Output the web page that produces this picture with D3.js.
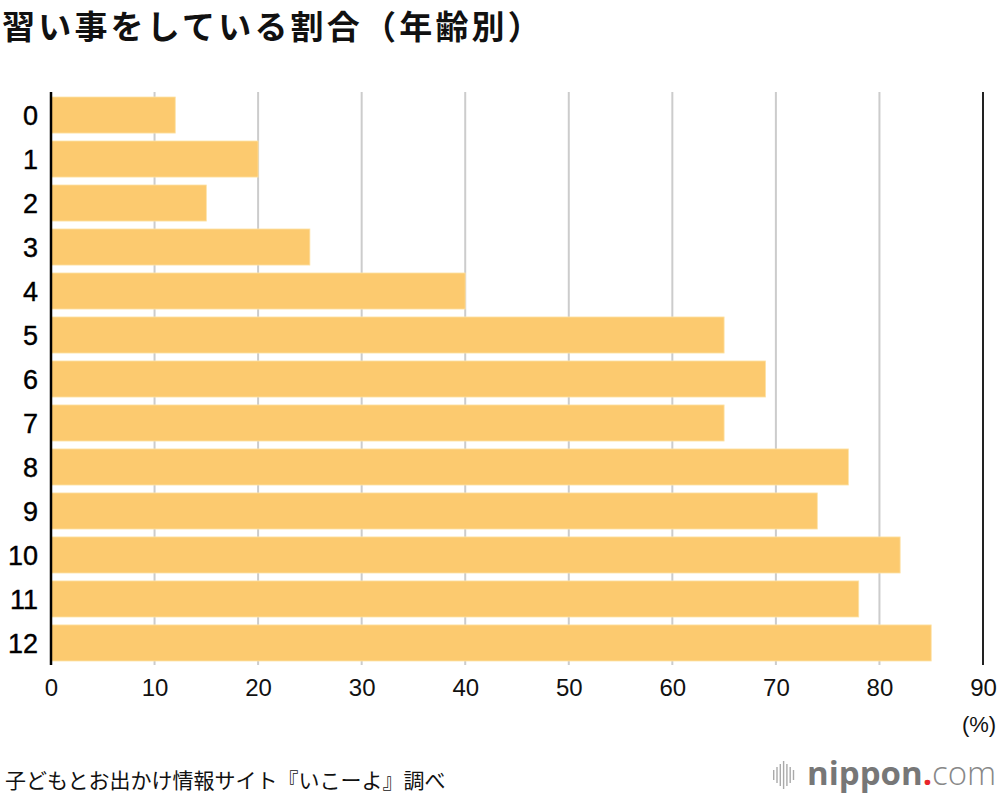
<!DOCTYPE html>
<html><head><meta charset="utf-8">
<script src="https://cdn.jsdelivr.net/npm/d3@7"></script>
<style>
body{margin:0;background:#fff;}
svg{display:block;}
</style></head>
<body>
<svg id="chart" width="1000" height="796"></svg>
<script>
const categories = ["0","1","2","3","4","5","6","7","8","9","10","11","12"];
const values = [12,20,15,25,40,65,69,65,77,74,82,78,85];
const xTicks = [0,10,20,30,40,50,60,70,80,90];
const title = "習い事をしている割合（年齢別）";
const source = "子どもとお出かけ情報サイト『いこーよ』調べ";
const unitLabel = "(%)";

const svg = d3.select("#chart");
const latin = "'Liberation Sans', Arial, sans-serif";
const cjk = "'Noto Sans CJK JP', sans-serif";

const x = d3.scaleLinear().domain([0,90]).range([51,983]);
const y = d3.scaleBand().domain(categories).range([97,661]).paddingInner(0.18).paddingOuter(0);

// gridlines
svg.append("g").selectAll("line").data(xTicks.filter(t=>t>0 && t<90)).join("line")
  .attr("x1",d=>x(d)).attr("x2",d=>x(d)).attr("y1",92).attr("y2",665)
  .attr("stroke","#cccccc").attr("stroke-width",2);

// bars
svg.append("g").selectAll("rect").data(values).join("rect")
  .attr("x",x(0)).attr("y",(d,i)=>y(categories[i]))
  .attr("width",d=>x(d)-x(0)).attr("height",y.bandwidth())
  .attr("fill","#fcca6f").attr("stroke","#fde3a8").attr("stroke-width",0.8);

// axis lines
svg.append("line").attr("x1",x(0)).attr("x2",x(0)).attr("y1",92).attr("y2",665)
  .attr("stroke","#000").attr("stroke-width",2.5);
svg.append("line").attr("x1",x(90)).attr("x2",x(90)).attr("y1",92).attr("y2",665)
  .attr("stroke","#222").attr("stroke-width",2);

// x axis tick labels
const xAxis = d3.axisBottom(x).tickValues(xTicks).tickSize(0).tickPadding(0);
const gx = svg.append("g").attr("transform","translate(0,679)").call(xAxis);
gx.select(".domain").remove();
gx.selectAll("text").attr("font-family",latin).attr("font-size",24).attr("fill","#111")
  .attr("dy","0.71em");

// y axis labels
const yAxis = d3.axisLeft(y).tickSize(0).tickPadding(0);
const gy = svg.append("g").attr("transform","translate(38,0)").call(yAxis);
gy.select(".domain").remove();
gy.selectAll("text").attr("font-family",latin).attr("font-size",27).attr("fill","#000")
  .attr("stroke","#000").attr("stroke-width",0.4).attr("dy","0.36em");

// unit
svg.append("text").attr("x",979).attr("y",732).attr("text-anchor","middle")
  .attr("font-family",latin).attr("font-size",22).attr("fill","#111").text(unitLabel);

// title
svg.append("text").attr("x",2).attr("y",39).attr("font-family",cjk).attr("font-weight","bold")
  .attr("font-size",33).attr("letter-spacing",3.2).attr("fill","#111").text(title);

// source
svg.append("text").attr("x",5).attr("y",788).attr("font-family",cjk)
  .attr("font-size",21).attr("fill","#111").text(source);

// logo
const logo = svg.append("g");
const barsH = [10,16,22,28,22,16,10];
logo.selectAll("rect").data(barsH).join("rect")
  .attr("x",(d,i)=>773+i*3.3).attr("y",d=>775-d/2).attr("width",1.4).attr("height",d=>d)
  .attr("fill","#aaa");
const lt = logo.append("text").attr("x",807).attr("y",785).attr("font-family","'Open Sans', sans-serif")
  .attr("font-size",33).attr("fill","#777");
lt.append("tspan").attr("font-weight","bold").text("nippon");
lt.append("tspan").attr("fill","#e8262b").attr("font-weight","bold").text(".");
lt.append("tspan").attr("font-weight","300").attr("fill","#888").text("com");
</script>
</body></html>
